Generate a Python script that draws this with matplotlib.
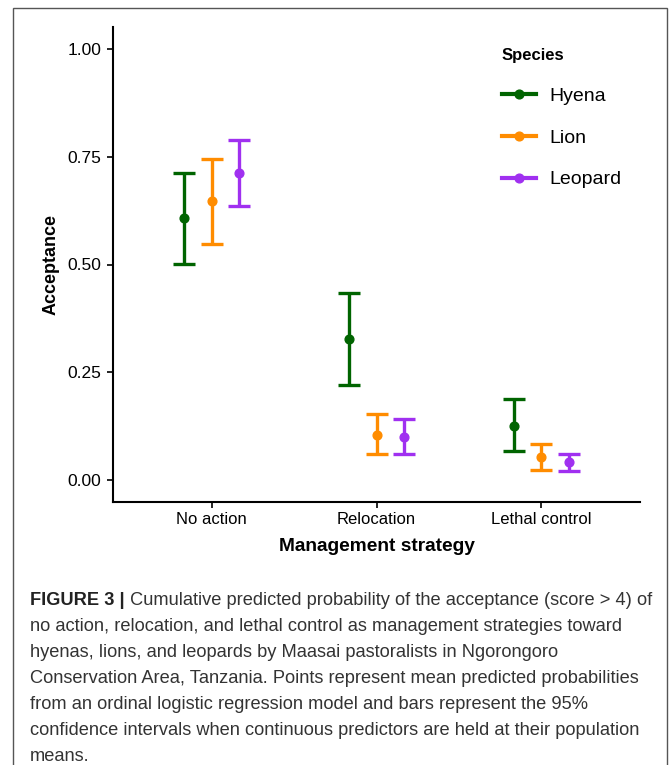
import numpy as np
import matplotlib.pyplot as plt
from matplotlib.lines import Line2D
from matplotlib.patches import Rectangle

# ---------------------------
# data
# ---------------------------
strategies = ['No action', 'Relocation', 'Lethal control']
species = ['Hyena', 'Lion', 'Leopard']
colors = ['#006400', '#FF8C00', '#A030F0']

mean_hyena = [0.607, 0.327, 0.127]
low_hyena = [0.501, 0.221, 0.069]
high_hyena = [0.713, 0.434, 0.188]

mean_lion = [0.646, 0.106, 0.055]
low_lion = [0.548, 0.061, 0.025]
high_lion = [0.745, 0.154, 0.085]

mean_leopard = [0.711, 0.101, 0.042]
low_leopard = [0.636, 0.062, 0.021]
high_leopard = [0.788, 0.142, 0.061]

means = [mean_hyena, mean_lion, mean_leopard]
lows = [low_hyena, low_lion, low_leopard]
highs = [high_hyena, high_lion, high_leopard]

caption_lines = [
    'no action, relocation, and lethal control as management strategies toward',
    'hyenas, lions, and leopards by Maasai pastoralists in Ngorongoro',
    'Conservation Area, Tanzania. Points represent mean predicted probabilities',
    'from an ordinal logistic regression model and bars represent the 95%',
    'confidence intervals when continuous predictors are held at their population',
    'means.',
]
caption_bold = 'FIGURE 3 |'
caption_first = ' Cumulative predicted probability of the acceptance (score > 4) of'

plt.rcParams['font.family'] = ['Liberation Sans', 'DejaVu Sans']

# ---------------------------
# figure
# ---------------------------
fig = plt.figure(figsize=(6.69, 7.65), dpi=100)
ax = fig.add_axes([113 / 669, 1 - 502 / 765, 527 / 669, 475 / 765])

x = np.arange(1, len(strategies) + 1)
dodge = 0.167
for i, sp in enumerate(species):
    xs = x + (i - 1) * dodge
    m = np.array(means[i])
    err = np.vstack([m - np.array(lows[i]), np.array(highs[i]) - m])
    ax.errorbar(xs, m, yerr=err, fmt='o', color=colors[i], ms=6.3,
                elinewidth=2.4, capsize=7.8, capthick=2.4, label=sp)

ax.set_xlim(0.4, 3.6)
ax.set_ylim(-0.05, 1.05)
ax.set_xticks(x)
ax.set_xticklabels(strategies)
ax.set_yticks([0, 0.25, 0.5, 0.75, 1.0])
ax.set_yticklabels(['0.00', '0.25', '0.50', '0.75', '1.00'])
for s in ['top', 'right']:
    ax.spines[s].set_visible(False)
for s in ['left', 'bottom']:
    ax.spines[s].set_linewidth(1.5)
    ax.spines[s].set_color('black')
ax.tick_params(length=4, width=1.2, labelsize=12, colors='black')
ax.tick_params(axis='y', pad=4.5, labelsize=12.5)
ax.tick_params(axis='x', pad=3)
ax.set_xlabel('Management strategy', fontsize=13.8, fontweight='bold', labelpad=8)
ax.set_ylabel('Acceptance', fontsize=13, fontweight='bold', labelpad=5.5)

handles = [Line2D([], [], color=c, lw=3, marker='o', ms=6.3) for c in colors]
leg = ax.legend(handles, species, title='Species', loc='upper left',
                bbox_to_anchor=(492 / 669, 1 - 38.5 / 765), bbox_transform=fig.transFigure,
                frameon=False, fontsize=14, numpoints=1, handlelength=1.75,
                handletextpad=0.72, labelspacing=1.24, borderpad=0,
                title_fontproperties={'weight': 'bold', 'size': 12})
leg._legend_box.align = 'left'

# border around the figure
fig.patches.append(Rectangle((13 / 669, -0.05), 654 / 669, 1.05 - 8 / 765,
                             transform=fig.transFigure, fill=False,
                             edgecolor='#555555', lw=1.0))

# caption
cap_color = '#333333'
cap_size = 13.15
base0 = 605
step = 26.0
t = fig.text(30 / 669, 1 - base0 / 765, caption_bold, fontsize=cap_size,
             fontweight='bold', color='#222222', va='baseline')
fig.canvas.draw()
bb = t.get_window_extent(fig.canvas.get_renderer())
fig.text(bb.x1 / fig.bbox.width, 1 - base0 / 765, caption_first, fontsize=cap_size,
         color=cap_color, va='baseline')
for k, line in enumerate(caption_lines):
    y = base0 + (k + 1) * step
    fig.text(30 / 669, 1 - y / 765, line, fontsize=cap_size, color=cap_color, va='baseline')

fig.savefig('out.png', dpi=100)
